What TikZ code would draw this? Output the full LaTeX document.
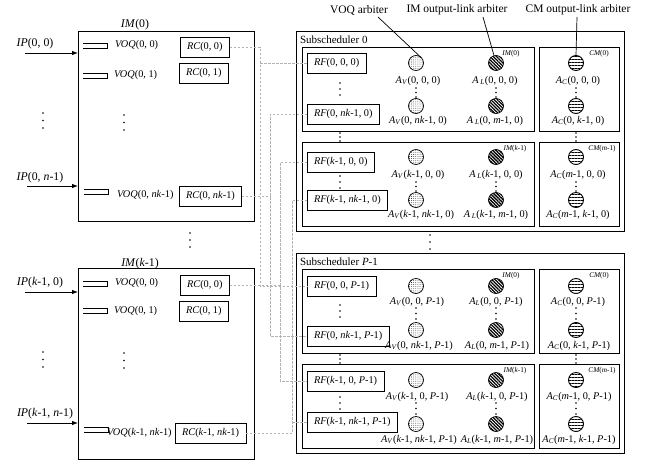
\documentclass[tikz,border=0pt]{standalone}
\usepackage{fontspec}
\setmainfont{Liberation Serif}
\usetikzlibrary{arrows.meta,patterns.meta,calc}
\newcommand{\I}[1]{\textit{#1}}
\newcommand{\Asub}[1]{\textit{A}\textsubscript{\textit{#1}}}
\newcommand{\threedots}[3]{\foreach \tt in {0,0.5,1} {\fill ({#1},{#2+(#3-#2)*\tt}) circle (0.85pt);}}
\begin{document}
\begin{tikzpicture}[x=1pt,y=-1pt,
  every node/.style={inner sep=0pt, outer sep=0pt},
  lbl/.style={font=\fontsize{10.3}{12}\selectfont},
  biglbl/.style={font=\fontsize{11.8}{14}\selectfont},
  toplbl/.style={font=\fontsize{11.5}{13}\selectfont},
  sublbl/.style={font=\fontsize{11}{13}\selectfont, anchor=west},
  smalllbl/.style={font=\fontsize{7.3}{9}\selectfont\itshape},
  rbox/.style={draw, line width=1pt, minimum height=20pt, inner xsep=7pt, anchor=west, lbl},
  frame/.style={draw, line width=0.9pt},
  conn/.style={draw=gray!60, dash pattern=on 2.5pt off 1.5pt, line width=0.5pt},
  arr/.style={-{Latex[length=6pt,width=4.5pt]}, line width=0.8pt},
  queue/.style={line width=0.9pt},
  lead/.style={line width=0.7pt},
  avc/.style={circle, draw, line width=0.7pt, minimum size=15pt, preaction={fill=white}, pattern={Dots[distance=2.1pt,radius=0.4pt]}},
  alc/.style={circle, draw, line width=0.7pt, minimum size=15pt, preaction={fill=white}, pattern={Lines[angle=-45,distance=2.3pt,line width=1.3pt]}},
  acc/.style={circle, draw, line width=0.9pt, minimum size=15pt, preaction={fill=white}, pattern={Lines[angle=0,distance=3pt,line width=0.9pt]}},
]
\useasboundingbox (0,0) rectangle (654,461);

% ---------------- IM(0) ----------------
\node[biglbl] (im0lbl) at (135,25) {\I{IM}(0)};
\node[frame, line width=1pt, minimum width=176pt, minimum height=190pt] (im0) at (166,126) {};
\node[biglbl] (ip00) at (35,44) {\I{IP}(0, 0)};
\coordinate (ip00a) at (25,53);
\draw[arr] (ip00a) -- (ip00a -| im0.west);
\draw[queue] (83,43) -- ++(24,0) -- ++(0,5) -- ++(-24,0);
\node[lbl, anchor=west] (voqa1) at (115,45) {\I{VOQ}(0, 0)};
\node[rbox] (rc00) at (180,47) {\I{RC}(0, 0)};
\draw[queue] (83,73) -- ++(24,0) -- ++(0,5) -- ++(-24,0);
\node[lbl, anchor=west] (voqa2) at (114,75) {\I{VOQ}(0, 1)};
\node[rbox] (rc01) at (179,73.5) {\I{RC}(0, 1)};
\threedots{43}{113}{128}
\threedots{124}{115}{130}
\node[biglbl] (ip0n) at (40,178) {\I{IP}(0, \I{n}-1)};
\coordinate (ip0na) at (27,186);
\draw[arr] (ip0na) -- (ip0na -| im0.west);
\draw[queue] (84,189) -- ++(24,0) -- ++(0,5) -- ++(-24,0);
\node[lbl, anchor=west] (voqa3) at (117,195) {\I{VOQ}(0, \I{nk}-1)};
\node[rbox] (rc0nk) at (179,196) {\I{RC}(0, \I{nk}-1)};

\threedots{190}{233}{247}

% ---------------- IM(k-1) ----------------
\node[biglbl] (imklbl) at (140,264) {\I{IM}(\I{k}-1)};
\node[frame, line width=1pt, minimum width=176pt, minimum height=191pt] (imk) at (166,363.5) {};
\node[biglbl] (ipk0) at (40,283) {\I{IP}(\I{k}-1, 0)};
\coordinate (ipk0a) at (25,292);
\draw[arr] (ipk0a) -- (ipk0a -| imk.west);
\draw[queue] (83,281) -- ++(24,0) -- ++(0,5) -- ++(-24,0);
\node[lbl, anchor=west] (voqb1) at (115,283) {\I{VOQ}(0, 0)};
\node[rbox] (rck00) at (180,285) {\I{RC}(0, 0)};
\draw[queue] (83,308) -- ++(24,0) -- ++(0,5) -- ++(-24,0);
\node[lbl, anchor=west] (voqb2) at (114,311) {\I{VOQ}(0, 1)};
\node[rbox] (rck01) at (179,311.5) {\I{RC}(0, 1)};
\threedots{43}{352}{367}
\threedots{124}{353}{368}
\node[biglbl] (ipkn) at (45,414) {\I{IP}(\I{k}-1, \I{n}-1)};
\coordinate (ipkna) at (27,423);
\draw[arr] (ipkna) -- (ipkna -| imk.west);
\draw[queue] (84,427) -- ++(24,0) -- ++(0,5) -- ++(-24,0);
\node[lbl, anchor=west] (voqb3) at (107,433) {\I{VOQ}(\I{k}-1, \I{nk}-1)};
\node[rbox] (rcknk) at (175,433) {\I{RC}(\I{k}-1, \I{nk}-1)};

% ---------------- top labels ----------------
\node[toplbl] (tvoq) at (359,10) {VOQ arbiter};
\node[toplbl] (tim) at (457,10) {IM output-link arbiter};
\node[toplbl] (tcm) at (578,10) {CM output-link arbiter};

% ---------------- Subscheduler 0 ----------------
\node[frame, minimum width=328pt, minimum height=200pt] (sub0) at (460,131) {};
\node[sublbl] (sub0lbl) at (300,40) {Subscheduler 0};
\node[frame, minimum width=232pt, minimum height=84pt] (s0i1) at (418,89) {};
\node[frame, minimum width=80pt, minimum height=84pt] (s0c1) at (579,89) {};
\node[frame, minimum width=232pt, minimum height=84pt] (s0i2) at (418,184) {};
\node[frame, minimum width=80pt, minimum height=84pt] (s0c2) at (579,184) {};
\node[smalllbl] (s0im0) at (511,54) {IM\upshape(0)};
\node[smalllbl] (s0cm0) at (599,54) {CM\upshape(0)};
\node[smalllbl] (s0imk) at (515,149) {IM\upshape(\textit{k}-1)};
\node[smalllbl] (s0cmm) at (602,149) {CM\upshape(\textit{m}-1)};

\node[rbox] (rf000) at (307,63) {\I{RF}(0, 0, 0)};
\node[rbox] (rf0n0) at (307,114) {\I{RF}(0, \I{nk}-1, 0)};
\node[rbox] (rfk00) at (307,162) {\I{RF}(\I{k}-1, 0, 0)};
\node[rbox] (rfkn0) at (307,200) {\I{RF}(\I{k}-1, \I{nk}-1, 0)};
\threedots{340}{83}{95}
\threedots{340}{176}{188}
\threedots{340}{133}{141}
\threedots{576}{133}{141}

\node[avc] (av1) at (416,63) {};
\node[avc] (av2) at (416,106) {};
\node[avc] (av3) at (416,157) {};
\node[avc] (av4) at (416,200) {};
\node[alc] (al1) at (496,63) {};
\node[alc] (al2) at (496,106) {};
\node[alc] (al3) at (496,157) {};
\node[alc] (al4) at (496,200) {};
\node[acc] (ac1) at (576,63) {};
\node[acc] (ac2) at (576,106) {};
\node[acc] (ac3) at (576,157) {};
\node[acc] (ac4) at (576,200) {};

\node[lbl] (lav1) at (418,81) {\Asub{V}(0, 0, 0)};
\node[lbl] (lav2) at (418,121) {\Asub{V}(0, \I{nk}-1, 0)};
\node[lbl] (lav3) at (418,175) {\Asub{V}(\I{k}-1, 0, 0)};
\node[lbl] (lav4) at (421,215) {\Asub{V}(\I{k}-1, \I{nk}-1, 0)};
\node[lbl] (lal1) at (495,81) {\I{A}\,\textsubscript{\I{L}}(0, 0, 0)};
\node[lbl] (lal2) at (495,121) {\I{A}\,\textsubscript{\I{L}}(0, \I{m}-1, 0)};
\node[lbl] (lal3) at (496,175) {\I{A}\,\textsubscript{\I{L}}(\I{k}-1, 0, 0)};
\node[lbl] (lal4) at (496,215) {\I{A}\,\textsubscript{\I{L}}(\I{k}-1, \I{m}-1, 0)};
\node[lbl] (lac1) at (578,81) {\Asub{C}(0, 0, 0)};
\node[lbl] (lac2) at (578,121) {\Asub{C}(0, \I{k}-1, 0)};
\node[lbl] (lac3) at (578,175) {\Asub{C}(\I{m}-1, 0, 0)};
\node[lbl] (lac4) at (578,215) {\Asub{C}(\I{m}-1, \I{k}-1, 0)};
\threedots{416}{88}{97}
\threedots{496}{88}{97}
\threedots{576}{88}{97}
\threedots{416}{182}{191}
\threedots{496}{182}{191}
\threedots{576}{182}{191}

\coordinate (voqs) at (378,17);
\coordinate (ims) at (483,17);
\coordinate (cms) at (577,17);
\draw[lead] (voqs) -- (av1.north east);
\draw[lead] (ims) -- (al1.105);
\draw[lead] (cms) -- (ac1.north);

\threedots{430}{235}{249}

% ---------------- Subscheduler P-1 ----------------
\node[frame, minimum width=328pt, minimum height=200pt] (subP) at (460,353) {};
\node[sublbl] (subPlbl) at (300,262) {Subscheduler \I{P}-1};
\node[frame, minimum width=232pt, minimum height=84pt] (sPi1) at (418,311) {};
\node[frame, minimum width=80pt, minimum height=84pt] (sPc1) at (579,311) {};
\node[frame, minimum width=232pt, minimum height=84pt] (sPi2) at (418,406) {};
\node[frame, minimum width=80pt, minimum height=84pt] (sPc2) at (579,406) {};
\node[smalllbl] (sPim0) at (511,276) {IM\upshape(0)};
\node[smalllbl] (sPcm0) at (599,276) {CM\upshape(0)};
\node[smalllbl] (sPimk) at (515,371) {IM\upshape(\textit{k}-1)};
\node[smalllbl] (sPcmm) at (602,371) {CM\upshape(\textit{m}-1)};

\node[rbox] (rf00P) at (307,286) {\I{RF}(0, 0, \I{P}-1)};
\node[rbox] (rf0nP) at (307,336) {\I{RF}(0, \I{nk}-1, \I{P}-1)};
\node[rbox] (rfk0P) at (307,381) {\I{RF}(\I{k}-1, 0, \I{P}-1)};
\node[rbox] (rfknP) at (307,422) {\I{RF}(\I{k}-1, \I{nk}-1, \I{P}-1)};
\threedots{340}{305}{317}
\threedots{340}{397}{409}
\threedots{340}{355}{363}
\threedots{576}{355}{363}

\node[avc] (bv1) at (416,286) {};
\node[avc] (bv2) at (416,330) {};
\node[avc] (bv3) at (416,380) {};
\node[avc] (bv4) at (416,424) {};
\node[alc] (bl1) at (496,286) {};
\node[alc] (bl2) at (496,330) {};
\node[alc] (bl3) at (496,380) {};
\node[alc] (bl4) at (496,424) {};
\node[acc] (bc1) at (576,286) {};
\node[acc] (bc2) at (576,330) {};
\node[acc] (bc3) at (576,380) {};
\node[acc] (bc4) at (576,424) {};

\node[lbl] (lbv1) at (417,302) {\Asub{V}(0, 0, \I{P}-1)};
\node[lbl] (lbv2) at (419,346) {\Asub{V}(0, \I{nk}-1, \I{P}-1)};
\node[lbl] (lbv3) at (417,397) {\Asub{V}(\I{k}-1, 0, \I{P}-1)};
\node[lbl] (lbv4) at (419,440) {\Asub{V}(\I{k}-1, \I{nk}-1, \I{P}-1)};
\node[lbl] (lbl1) at (496,302) {\Asub{L}(0, 0, \I{P}-1)};
\node[lbl] (lbl2) at (497,346) {\Asub{L}(0, \I{m}-1, \I{P}-1)};
\node[lbl] (lbl3) at (497,397) {\Asub{L}(\I{k}-1, 0, \I{P}-1)};
\node[lbl] (lbl4) at (497,440) {\Asub{L}(\I{k}-1, \I{m}-1, \I{P}-1)};
\node[lbl] (lbc1) at (578,302) {\Asub{C}(0, 0, \I{P}-1)};
\node[lbl] (lbc2) at (579,346) {\Asub{C}(0, \I{k}-1, \I{P}-1)};
\node[lbl] (lbc3) at (579,397) {\Asub{C}(\I{m}-1, 0, \I{P}-1)};
\node[lbl] (lbc4) at (579,440) {\Asub{C}(\I{m}-1, \I{k}-1, \I{P}-1)};
\threedots{416}{308}{319}
\threedots{496}{308}{319}
\threedots{576}{308}{319}
\threedots{416}{403}{414}
\threedots{496}{403}{414}
\threedots{576}{403}{414}

% ---------------- dashed connectors ----------------
\coordinate (laneA) at (260,0);
\coordinate (laneB) at (270,0);
\coordinate (laneC) at (280,0);
\coordinate (laneD) at (292,0);
\draw[conn] (rc00.east) -- (rc00.east -| laneA) -- (rf00P.west -| laneA) -- (rf00P.west);
\draw[conn] (rf000.west -| laneA) -- (rf000.west);
\draw[conn] (rf0n0.west) -- (rf0n0.west -| laneB) -- (rf0nP.west -| laneB) -- (rf0nP.west);
\draw[conn] (rc0nk.east) -- (rc0nk.east -| laneB);
\draw[conn] (rfk00.west) -- (rfk00.west -| laneC) -- (rfk0P.west -| laneC) -- (rfk0P.west);
\draw[conn] (rck00.east) -- (rck00.east -| laneC);
\draw[conn] (rfkn0.west) -- (rfkn0.west -| laneD) -- (rcknk.east -| laneD) -- (rcknk.east);
\draw[conn] (rfknP.west -| laneD) -- (rfknP.west);
\end{tikzpicture}
\end{document}
